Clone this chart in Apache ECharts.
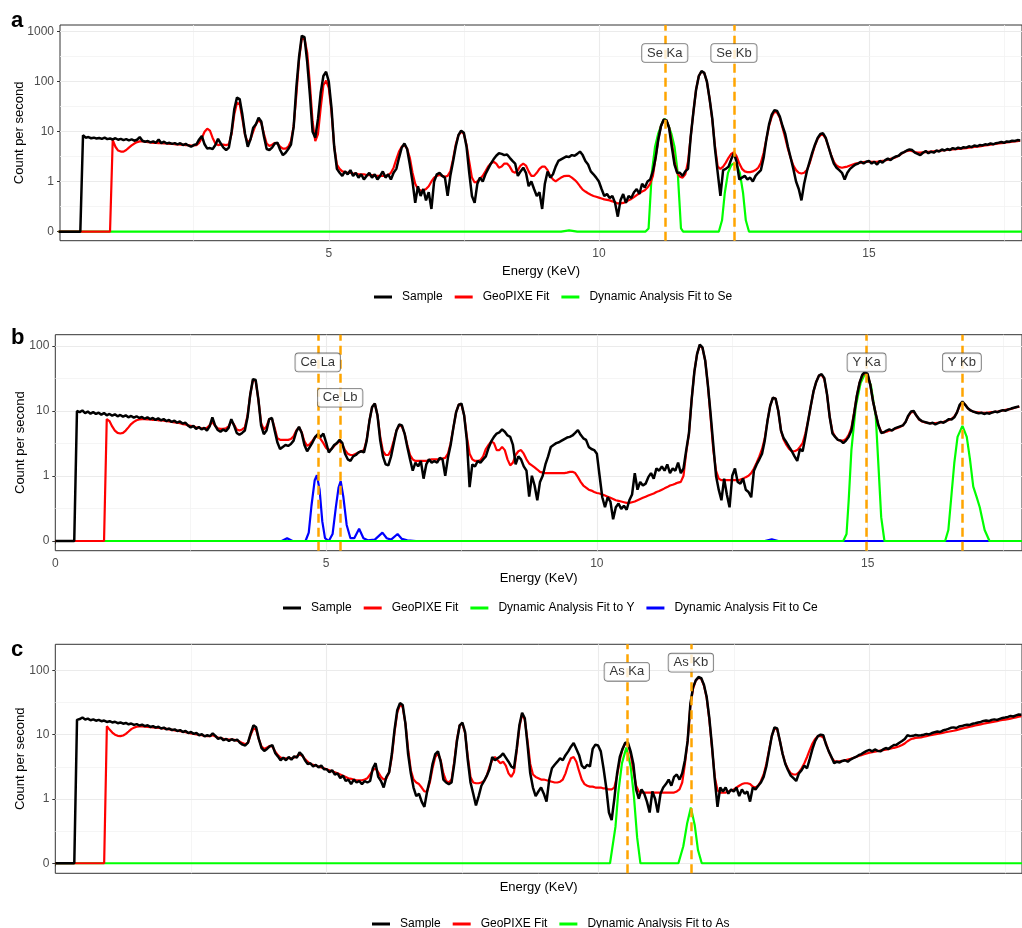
<!DOCTYPE html>
<html><head><meta charset="utf-8">
<script src="https://cdn.jsdelivr.net/npm/echarts@6/dist/echarts.min.js"></script>
<style>html,body{margin:0;padding:0;background:#fff}#c{width:1022px;height:928px}</style>
</head><body><div id="c"></div>
<script>
// ---------- DATA (counts per second, sampled every STEP keV from 0) ----------
const STEP = 0.05;
const sampleA = [
0,0,0,0,0,0,0,0,0,8.5,7.6,7.8,7.4,7.6,7.3,7.5,7.2,7.6,7.1,7.3,
7.0,7.4,6.9,7.2,6.8,7.1,6.7,7.0,6.6,6.9,7.8,6.6,6.3,6.5,6.1,6.4,6.0,7.0,5.9,6.3,
5.8,6.0,5.7,5.9,5.6,5.9,5.4,5.7,5.3,5.0,5.4,5.6,7.0,8.2,5.6,4.6,4.7,4.5,5.4,7.2,
5.8,4.8,4.3,4.8,10,28,48,45,22,9,5.0,7.0,12,14,19,16,8,4.5,4.3,4.8,
5.8,6.0,4.3,3.4,3.8,4.5,5.5,12.6,79,316,830,780,250,55,10,7.6,18,60,130,158,
100,30,5,1.8,1.5,1.3,1.6,1.4,1.7,1.3,1.5,1.2,1.4,1.1,1.3,1.5,1.2,1.4,1.1,1.3,
1.6,1.2,1.4,1.1,1.5,1.8,3.0,4.8,5.8,4.5,2.2,1.0,0.35,0.8,0.5,0.7,0.4,0.6,0.25,1.0,
1.4,1.5,1.3,1.2,0.5,1.3,2.5,5,8.5,10.5,9.5,5,1.5,0.5,0.35,0.9,1.2,1.0,1.4,1.8,
2.3,2.8,3.3,3.7,3.6,3.4,3.5,3.0,2.6,2.3,1.3,1.6,1.9,1.5,0.8,1.0,0.7,0.5,0.6,0.25,
0.9,1.6,1.2,1.4,2.0,2.6,2.8,3.0,3.2,3.1,3.4,3.3,3.6,4.0,3.4,2.6,2.2,1.6,1.4,1.2,
1.0,0.7,0.5,0.55,0.45,0.5,0.35,0.15,0.4,0.55,0.35,0.5,0.45,0.6,0.7,0.55,0.9,0.75,1.0,1.1,
1.6,3,7,13,17.5,17,12,5,2.2,1.5,1.5,1.3,1.6,1.8,8,25,70,130,163,150,
100,45,18,4.5,1.5,0.5,1.7,1.8,2.0,2.8,3.7,2.5,1.1,1.2,1.3,1.1,1.2,1.0,1.3,1.5,
1.7,3,7,14,22,27,26,20,13,9,5,3,1.8,1.0,0.7,0.4,0.9,1.6,2.5,3.8,
5.5,7.5,9,9.3,7.5,5,3.3,2.3,1.9,1.7,1.5,1.1,1.5,1.8,2.0,2.2,2.3,2.5,2.3,2.5,
2.6,2.3,2.5,2.2,2.6,2.4,2.7,2.9,2.7,3.0,3.2,3.3,3.7,3.9,4.2,4.4,4.3,3.8,3.6,3.4,
3.8,4.1,3.7,4.0,3.8,4.2,4.0,4.4,4.2,4.5,4.3,4.7,4.5,4.8,4.6,4.9,4.8,5.1,4.9,5.3,
5.1,5.4,5.3,5.6,5.5,5.8,5.6,5.9,6.0,6.2,6.0,6.4,6.3,6.6,6.5,6.8,6.7];
const fitA = [
0,0,0,0,0,0,0,0,0,0,0,0,0,0,0,0,0,0,0,0,
6.8,5.0,4.2,4.0,4.0,4.3,4.8,5.3,5.8,6.2,6.4,6.4,6.3,6.2,6.1,6.0,6.0,5.9,5.9,5.8,
5.8,5.7,5.7,5.6,5.6,5.5,5.5,5.4,5.4,5.3,5.3,5.4,6.0,7.5,10,11.5,10.5,7.5,5.8,5.4,
5.5,5.5,5.4,5.6,9,22,38,36,18,8.5,6.0,7.0,10,14,17,15,9,5.8,5.2,5.5,
6.0,5.8,5.0,4.6,4.6,5.0,6.5,13,55,280,740,720,380,90,16,6.5,9,30,85,105,
75,25,5,2.2,1.8,1.6,1.55,1.5,1.5,1.45,1.45,1.4,1.4,1.4,1.35,1.35,1.35,1.3,1.3,1.3,
1.3,1.3,1.35,1.5,1.9,2.8,4.0,5.0,5.4,4.6,3.0,1.5,0.9,0.7,0.65,0.65,0.7,0.8,1.0,1.2,
1.3,1.35,1.3,1.25,1.3,1.6,2.8,5.5,8.5,10,9,5.5,2.5,1.2,0.95,1.0,1.15,1.3,1.6,2.0,
2.3,2.5,2.3,1.9,2.0,2.3,2.3,2.0,1.6,1.5,1.7,2.1,2.3,2.1,1.6,1.3,1.3,1.5,1.8,2.0,
2.0,1.7,1.3,1.1,1.0,1.1,1.2,1.28,1.3,1.3,1.2,1.08,0.95,0.8,0.68,0.62,0.57,0.53,0.5,0.48,
0.46,0.44,0.42,0.41,0.4,0.38,0.36,0.34,0.34,0.35,0.37,0.4,0.43,0.47,0.52,0.57,0.62,0.66,0.75,0.9,
1.3,3,7,13,17,17,12,6,2.5,1.5,1.25,1.2,1.4,2.5,8,25,70,130,160,150,
100,45,17,5,2.0,1.8,2.0,2.4,3.0,3.6,3.9,3.2,2.3,1.8,1.6,1.55,1.55,1.6,1.7,1.9,
2.4,3.8,7,13,20,25,24,19,12,7.5,4.5,3.0,2.1,1.7,1.5,1.45,1.5,1.7,2.3,3.5,
5.3,7.2,8.5,8.7,7.3,5.0,3.4,2.5,2.1,1.95,1.9,1.95,2.0,2.1,2.2,2.3,2.35,2.4,2.45,2.5,
2.5,2.5,2.5,2.5,2.55,2.6,2.65,2.75,2.85,2.95,3.1,3.3,3.6,3.9,4.1,4.2,4.1,3.9,3.8,3.8,
3.85,3.9,3.95,4.0,4.05,4.1,4.15,4.2,4.25,4.3,4.35,4.4,4.45,4.5,4.6,4.65,4.7,4.8,4.85,4.95,
5.0,5.1,5.2,5.3,5.4,5.5,5.6,5.7,5.8,5.9,6.0,6.1,6.2,6.3,6.4,6.5,6.6];
const seFitA = [[0,0],[9.3,0],[9.45,0.012],[9.6,0],[10.86,0],[10.92,0.03],[10.95,0.4],[10.98,1.5],[11.04,5],[11.1,9.3],[11.17,15],[11.22,18],[11.27,15],[11.34,9.3],[11.4,5],[11.46,1.5],[11.49,0.4],[11.52,0.03],[11.56,0],[12.22,0],[12.28,0.11],[12.33,0.57],[12.39,1.5],[12.45,2.15],[12.5,2.3],[12.55,2.15],[12.61,1.5],[12.67,0.57],[12.72,0.11],[12.78,0],[17.9,0]];

const sampleB = [
0,0,0,0,0,0,0,0,10,9.6,10.2,9.3,9.8,9.1,9.6,9.0,9.4,8.8,9.3,8.6,
9.0,8.5,8.9,8.3,8.7,8.2,8.6,8.0,8.4,7.9,8.3,7.8,8.1,7.6,8.0,7.5,7.8,7.3,7.7,7.2,
7.5,7.0,7.3,6.8,7.1,6.6,6.9,6.4,6.6,6.0,5.6,5.9,5.3,5.7,5.2,5.5,5.0,5.8,8.0,6.0,
5.1,4.8,5.2,4.9,5.5,7.5,6.0,4.6,4.3,4.6,5.0,8,18,31,30,15,6,4.4,5.0,7.5,
7.8,5.0,3.3,2.6,2.8,3.0,2.9,3.1,3.5,4.8,5.7,4.6,3.0,2.4,2.8,3.3,4.0,4.4,4.0,4.5,
3.3,2.3,2.6,3.0,3.2,3.6,3.2,2.2,1.8,1.7,2.0,2.1,2.3,2.4,2.3,3.5,7,11.5,13,8.5,
3.5,2.0,1.5,1.45,2.0,3.2,5.0,6.2,6.0,4.5,2.8,1.8,1.2,1.6,1.4,1.7,0.9,1.5,1.8,1.6,
1.7,1.6,1.9,1.8,1.0,1.9,3.0,5.5,9.5,12.5,13,8.5,3.5,0.66,1.5,1.4,1.7,1.6,1.8,2.0,
2.7,3.4,4.0,4.5,4.7,5.2,4.8,4.2,4.0,3.0,1.5,2.0,1.8,1.4,1.2,0.46,1.0,0.7,0.4,0.8,
1.0,1.5,2.0,2.8,3.0,3.2,3.3,3.5,3.7,3.9,4.0,4.2,4.6,5.1,4.3,3.8,3.6,2.8,2.6,2.5,
2.2,1.0,0.45,0.3,0.45,0.38,0.17,0.3,0.35,0.28,0.32,0.27,0.4,0.5,1.1,0.6,0.8,0.7,0.75,0.95,
1.1,0.9,1.3,1.2,1.4,1.2,1.5,1.1,1.3,1.2,1.6,1.1,1.3,2.5,4.5,15,40,75,105,95,
60,25,9,3,1.0,0.6,0.4,0.9,0.5,0.3,1.0,1.3,0.8,0.75,0.9,0.6,0.55,0.45,1.2,1.5,
1.8,2.2,3.5,7,12,16,15.5,10,5,3.8,3.3,2.8,2.4,2.0,1.7,2.6,2.4,4,7,12,
20,28,35,37,32,18,8,4.5,4.0,3.6,3.5,3.2,3.5,4.0,5,9,17,27,36,40,
37,25,14,9,6,4.6,4.7,5.0,5.2,5.0,5.4,5.6,5.8,6.0,6.8,8.5,9.8,10,8.5,7.5,
7.0,6.8,6.6,6.4,6.6,6.2,6.5,6.8,6.6,7.0,7.5,7.4,8.0,9.5,12.5,14,12.5,11,10.2,9.8,
9.5,9.2,9.4,9.0,9.3,9.1,9.5,9.8,9.6,10.0,10.3,10.1,10.6,10.9,11.2,11.5,11.8];
const fitB = [
0,0,0,0,0,0,0,0,0,0,0,0,0,0,0,0,0,0,0,7.5,
7.0,5.8,5.0,4.6,4.5,4.6,5.0,5.6,6.3,6.8,7.2,7.4,7.5,7.5,7.4,7.4,7.3,7.3,7.2,7.2,
7.1,7.0,6.9,6.8,6.7,6.6,6.5,6.3,6.2,6.0,5.9,5.8,5.6,5.5,5.4,5.4,5.5,6.0,6.8,5.9,
5.4,5.3,5.3,5.4,5.8,7.0,6.2,5.2,5.0,5.2,5.6,8.5,18,30,29,15,6.5,5.2,5.8,7.5,
7.6,5.5,3.8,3.6,3.6,3.6,3.6,3.7,4.1,5.0,5.6,4.7,3.4,2.9,3.1,3.5,4.0,4.1,3.7,3.2,
2.7,2.5,2.6,2.9,3.2,3.4,3.0,2.5,2.2,2.1,2.1,2.2,2.3,2.4,2.5,3.6,7,11.5,13,8.5,
4.0,2.4,2.1,2.1,2.5,3.5,5.0,6.0,5.8,4.5,3.0,2.1,1.8,1.7,1.7,1.7,1.7,1.7,1.75,1.8,
1.8,1.8,1.8,1.85,1.9,2.2,3.2,5.5,9.5,12.5,12.5,8.5,4.0,2.2,1.8,1.7,1.7,1.75,2.0,2.6,
3.0,3.4,3.2,2.5,2.5,2.8,2.5,1.8,1.45,1.6,2.1,2.4,2.5,2.2,1.8,1.55,1.45,1.35,1.25,1.15,
1.12,1.1,1.1,1.1,1.1,1.1,1.1,1.1,1.1,1.12,1.15,1.15,1.1,0.95,0.8,0.7,0.65,0.6,0.58,0.55,
0.53,0.52,0.5,0.48,0.46,0.44,0.42,0.4,0.39,0.38,0.37,0.36,0.36,0.37,0.38,0.4,0.42,0.44,0.46,0.48,
0.5,0.52,0.55,0.57,0.6,0.63,0.66,0.7,0.72,0.75,0.78,0.8,1.0,2.3,4.5,15,40,75,103,93,
60,25,8,2.5,1.2,0.9,0.85,0.85,0.85,0.85,0.85,0.85,0.85,0.87,0.9,0.95,1.0,1.1,1.3,1.6,
2.0,2.6,3.8,7,12,16,15.5,10,5,3.6,3.0,2.6,2.4,2.4,2.5,2.8,3.2,4.5,7,12,
20,28,35,36,31,18,8,4.8,4.0,3.6,3.5,3.5,3.7,4.3,5.5,9.5,17,27,35,39,
36,25,14,9,6,4.8,4.7,4.8,5.0,5.1,5.3,5.5,5.7,6.0,6.8,8.3,9.5,9.8,8.5,7.4,
6.9,6.7,6.6,6.5,6.5,6.5,6.6,6.7,6.8,7.0,7.3,7.6,8.2,9.5,12,13.5,12.5,11,10.2,9.8,
9.6,9.5,9.4,9.4,9.4,9.5,9.6,9.7,9.8,10,10.2,10.4,10.6,10.8,11.1,11.4,11.7];
const yFitB = [[0,0],[14.55,0],[14.61,0.05],[14.65,0.4],[14.7,2.5],[14.78,11.7],[14.87,27],[14.96,39],[15.06,25],[15.15,8.2],[15.2,1.4],[15.25,0.19],[15.31,0],[16.43,0],[16.49,0.08],[16.55,0.52],[16.6,1.58],[16.66,4.0],[16.75,5.9],[16.83,4.0],[16.89,1.78],[16.95,0.67],[17.01,0.46],[17.07,0.3],[17.16,0.08],[17.25,0],[17.9,0]];
const ceFitB = [[0,0],[4.18,0],[4.28,0.02],[4.38,0],[4.62,0],[4.68,0.06],[4.73,0.32],[4.79,0.85],[4.83,1.02],[4.88,0.6],[4.93,0.15],[4.98,0.02],[5.05,0],[5.12,0.05],[5.18,0.3],[5.23,0.65],[5.27,0.82],[5.32,0.45],[5.38,0.12],[5.45,0.02],[5.52,0.02],[5.61,0.09],[5.69,0.02],[5.77,0.005],[5.9,0.01],[6.04,0.06],[6.12,0.02],[6.2,0.01],[6.32,0.05],[6.4,0.015],[6.5,0.005],[6.66,0],[13.1,0],[13.23,0.012],[13.35,0],[17.9,0]];

const sampleC = [
0,0,0,0,0,0,0,0,17,17.5,18.5,17.2,17.8,16.8,17.3,16.5,17.0,16.2,16.6,15.8,
16.2,15.5,15.9,15.1,15.5,14.8,15.2,14.5,14.9,14.2,14.6,13.9,14.3,13.6,14.0,13.2,13.6,12.9,13.3,12.5,
12.9,12.1,12.5,11.8,12.1,11.4,11.8,11.0,11.4,10.6,11.0,10.3,10.6,9.8,10.2,9.4,9.8,9.5,10.5,9.6,
8.6,9.0,8.2,8.6,8.0,8.5,8.1,8.4,7.5,7.0,6.8,7.5,10.5,14,13,8.5,6.2,5.6,6.0,6.6,
6.9,5.2,4.6,4.0,4.4,4.0,4.5,4.1,4.6,4.4,5.3,4.8,4.0,3.5,3.6,3.2,3.4,3.1,3.3,2.9,
2.9,2.6,2.8,2.4,2.5,2.1,2.3,1.9,2.0,1.7,2.0,1.8,1.9,1.7,1.9,1.8,1.9,3.0,3.6,2.2,
1.9,1.5,2.2,2.6,5,12,24,31,29,15,5,2.5,1.5,1.1,1.2,0.9,0.74,1.3,2.0,3.5,
5.0,5.5,3.8,2.0,1.8,1.7,1.8,3.5,8,14,15.4,11,4,1.8,1.2,0.78,1.1,1.6,1.9,2.3,
2.9,4.5,4.0,4.3,4.6,5.1,4.4,3.8,3.2,3.0,6,14,22,18,7,2.5,1.5,1.1,1.3,1.5,
1.2,0.9,2.0,3.0,3.4,3.8,4.3,4.0,4.8,5.5,6.5,7.4,6.0,4.8,3.3,3.0,3.4,3.2,6.0,7.0,
6.8,5.5,3.0,1.5,0.6,0.45,1.0,2.5,4.5,6.0,7.5,7.5,5.5,3.5,1.4,1.0,1.4,1.2,0.9,0.6,
1.3,1.0,0.6,1.2,1.5,1.7,2.0,1.6,2.2,2.4,2.0,2.5,4.0,8,30,55,70,79,76,60,
39,18,6.5,2.0,0.74,1.5,1.3,1.5,1.2,1.4,1.3,1.5,1.1,1.4,1.2,1.3,0.9,1.5,1.4,1.6,
1.8,2.2,3.2,5.5,9.5,13,12.5,8,5,3.5,2.8,2.3,2.1,1.9,2.5,2.8,3.3,3.0,4.2,6,
8,9.5,10,9.8,7,5.5,4.5,3.6,3.8,3.7,3.9,4.0,3.8,4.1,4.3,4.5,4.8,5.0,5.3,5.6,
5.8,5.5,5.9,5.6,5.5,5.9,6.2,6.0,6.5,6.9,7.0,7.5,8.0,8.6,9.8,9.5,9.6,9.9,9.7,9.8,
10.0,10.3,10.1,10.6,10.9,11.2,11.0,11.6,11.9,12.3,12.8,13.0,12.7,13.4,13.6,14.0,14.3,14.2,14.8,15.1,
15.5,15.8,16.3,16.6,16.3,17.0,17.3,17.0,17.6,18.2,18.5,18.9,19.5,19.2,20.0,20.6,20.5];
const fitC = [
0,0,0,0,0,0,0,0,0,0,0,0,0,0,0,0,0,0,0,13.5,
12,10.8,10.0,9.6,9.5,9.7,10.3,11.2,12.2,12.9,13.3,13.4,13.4,13.3,13.2,13.1,13.0,12.9,12.8,12.6,
12.5,12.3,12.1,11.9,11.7,11.5,11.3,11.1,10.9,10.7,10.5,10.3,10.1,9.9,9.8,9.6,9.5,9.5,9.8,9.4,
9.0,8.8,8.6,8.5,8.4,8.4,8.3,8.1,7.8,7.4,7.1,7.5,10,12.5,12,8.5,6.5,6.0,6.3,6.7,
6.5,5.5,4.8,4.4,4.3,4.3,4.3,4.3,4.4,4.6,4.9,4.7,4.2,3.8,3.5,3.4,3.3,3.2,3.1,3.0,
2.9,2.8,2.7,2.6,2.5,2.4,2.3,2.2,2.1,2.05,2.0,1.95,1.95,1.95,2.0,2.1,2.4,2.8,3.0,2.6,
2.2,2.0,2.1,2.6,4.5,11,22,29,27,15,6,2.8,2.0,1.8,1.7,1.5,1.3,1.3,1.8,3.0,
4.5,5.1,4.0,2.5,1.9,1.8,2.0,3.8,8.5,14,15,10.5,4.5,2.2,1.8,1.75,1.75,1.8,1.9,2.3,
3.2,4.0,4.5,4.0,3.6,3.8,3.3,2.5,2.2,2.6,5.5,13,21,17,8,3.5,2.4,2.2,2.1,2.0,
2.0,1.95,1.9,1.85,1.8,1.8,1.85,2.0,2.5,3.4,4.3,4.5,3.8,2.7,2.0,1.7,1.6,1.55,1.55,1.5,
1.5,1.5,1.45,1.45,1.4,1.4,1.5,2.3,4.0,6.0,7.3,7.0,5.0,2.8,1.6,1.3,1.25,1.25,1.25,1.25,
1.25,1.25,1.25,1.25,1.25,1.25,1.25,1.25,1.25,1.3,1.4,1.8,3.5,8,28,52,70,77,74,58,
38,17,6,2.2,1.35,1.25,1.25,1.25,1.3,1.35,1.4,1.5,1.6,1.7,1.75,1.75,1.7,1.55,1.5,1.6,
1.9,2.4,3.5,5.8,9.5,12.5,12,8,5,3.6,2.9,2.5,2.4,2.4,2.6,3.0,3.6,4.5,5.8,7.3,
8.6,9.5,9.6,9.0,7.3,5.5,4.4,3.9,3.8,3.85,3.9,4.0,4.1,4.2,4.35,4.5,4.65,4.8,4.95,5.1,
5.25,5.35,5.45,5.55,5.65,5.75,5.85,5.95,6.1,6.25,6.4,6.6,6.9,7.3,7.9,8.4,8.7,8.9,9.0,9.1,
9.3,9.5,9.7,9.9,10.1,10.3,10.5,10.7,10.9,11.1,11.3,11.5,11.8,12.1,12.4,12.7,13.0,13.3,13.6,13.9,
14.2,14.5,14.8,15.1,15.4,15.7,16.0,16.3,16.6,16.9,17.2,17.5,17.8,18.2,18.6,19.0,19.4];
const asFitC = [[0,0],[10.22,0],[10.25,0.01],[10.32,0.34],[10.37,1.2],[10.44,3.6],[10.52,6.3],[10.6,3.2],[10.66,1.1],[10.72,0.21],[10.78,0],[11.48,0],[11.51,0.01],[11.57,0.13],[11.64,0.39],[11.71,0.72],[11.78,0.37],[11.84,0.1],[11.91,0],[17.9,0]];

// line markers (keV) and label heights (counts per second)
const lineNamesA = ['Se Ka','Se Kb'];               const lineKeVA = [11.22, 12.50];               const labelHA = [375, 375];
const lineNamesB = ['Ce La','Ce Lb','Y Ka','Y Kb']; const lineKeVB = [4.846, 5.26, 14.98, 16.74]; const labelHB = [56, 16, 56, 56];
const lineNamesC = ['As Ka','As Kb'];               const lineKeVC = [10.53, 11.71];               const labelHC = [95, 132];

const yTickLabels = ['0','1','10','100','1000'];
const xTicks = [0, 5, 10, 15];
const xMinor = [2.5, 7.5, 12.5, 17.5];

// ---------- helpers ----------
const T = v => Math.asinh(v / 0.2) / Math.LN10;   // pseudo-log (sigma 0.1)
const onGrid = arr => arr.map((v, i) => [+(i * STEP).toFixed(2), T(v)]);
const fromPairs = arr => arr.map(p => [p[0], T(p[1])]);
const FONT = 'Liberation Sans, Arial, Helvetica, sans-serif';

const panels = [
  {key:'a', left:60, top:25, width:964, height:215.7, xmin:0.024, xmax:17.833, ymin:-0.18, ymax:4.134, nTicks:5,
   showX:true, xTicks:[5,10,15], xNameGap:24, yNameGap:34, legendLeft:369, legendTop:286,
   series:[['Dynamic Analysis Fit to Se', fromPairs(seFitA), '#00FF00', 2.2]],
   names:lineNamesA, keVs:lineKeVA, hs:labelHA, letterTop:10},
  {key:'b', left:55.3, top:334.7, width:968.7, height:216, xmin:0, xmax:17.85, ymin:-0.149, ymax:3.174, nTicks:4,
   showX:true, xTicks:[0,5,10,15], xNameGap:21, yNameGap:28, legendLeft:278, legendTop:597,
   series:[['Dynamic Analysis Fit to Ce', fromPairs(ceFitB), '#0000FF', 2.2], ['Dynamic Analysis Fit to Y', fromPairs(yFitB), '#00FF00', 2.2]],
   names:lineNamesB, keVs:lineKeVB, hs:labelHB, letterTop:327},
  {key:'c', left:55.3, top:644.3, width:968.7, height:229, xmin:0, xmax:17.81, ymin:-0.156, ymax:3.406, nTicks:4,
   showX:false, xTicks:[0,5,10,15], xNameGap:8, yNameGap:28, legendLeft:367, legendTop:913,
   series:[['Dynamic Analysis Fit to As', fromPairs(asFitC), '#00FF00', 2.2]],
   names:lineNamesC, keVs:lineKeVC, hs:labelHC, letterTop:639}
];
const samples = [sampleA, sampleB, sampleC];
const fits = [fitA, fitB, fitC];

const grids = [], xAxes = [], yAxes = [], series = [], legends = [], graphics = [];
panels.forEach((p, i) => {
  grids.push({left:p.left, top:p.top, width:p.width, height:p.height, show:true, backgroundColor:'#fff', borderColor:'#333', borderWidth:1});
  xAxes.push({gridIndex:i, type:'value', min:p.xmin, max:p.xmax,
    axisLine:{show:false}, splitLine:{show:false},
    axisTick:{show:true, length:3, lineStyle:{color:'#333', width:1}, customValues:p.xTicks},
    axisLabel:{show:p.showX, customValues:p.xTicks, color:'#4D4D4D', fontSize:12, margin:7, fontFamily:FONT},
    name:'Energy (KeV)', nameLocation:'middle', nameGap:p.xNameGap, nameMoveOverlap:false,
    nameTextStyle:{color:'#000', fontSize:13, fontFamily:FONT}});
  const yt = []; for (let k = 0; k < p.nTicks; k++) yt.push(k);
  yAxes.push({gridIndex:i, type:'value', min:p.ymin, max:p.ymax,
    axisLine:{show:false}, splitLine:{show:false},
    axisTick:{show:true, length:3, lineStyle:{color:'#333', width:1}, customValues:yt},
    axisLabel:{customValues:yt, color:'#4D4D4D', fontSize:12, margin:6, fontFamily:FONT,
      formatter: v => yTickLabels[Math.round(v)]},
    name:'Count per second', nameLocation:'middle', nameGap:p.yNameGap, nameMoveOverlap:false,
    nameTextStyle:{color:'#000', fontSize:13, fontFamily:FONT}});

  // gridlines
  const gl = [];
  const major = {color:'#EBEBEB', width:1.1, type:'solid'};
  const minor = {color:'#F3F3F3', width:0.8, type:'solid'};
  xTicks.forEach(v => { if (v > p.xmin) gl.push({xAxis:v, lineStyle:major}); });
  xMinor.forEach(v => { if (v < p.xmax) gl.push({xAxis:v, lineStyle:minor}); });
  yt.forEach(v => gl.push({yAxis:v, lineStyle:major}));
  yt.forEach(v => { if (v + 0.5 < p.ymax) gl.push({yAxis:v + 0.5, lineStyle:minor}); });
  series.push({type:'line', xAxisIndex:i, yAxisIndex:i, data:[], silent:true, z:1,
    markLine:{silent:true, z:1, symbol:['none','none'], label:{show:false}, animation:false, data:gl}});

  // element fits (bottom), GeoPIXE, sample (top)
  p.series.forEach(s => series.push({type:'line', name:s[0], xAxisIndex:i, yAxisIndex:i, data:s[1], showSymbol:false,
    color:s[2], itemStyle:{color:s[2]}, lineStyle:{color:s[2], width:s[3]}, z:2, animation:false, emphasis:{disabled:true}}));
  series.push({type:'line', name:'GeoPIXE Fit', xAxisIndex:i, yAxisIndex:i, data:onGrid(fits[i]), showSymbol:false,
    color:'#FF0000', itemStyle:{color:'#FF0000'}, lineStyle:{color:'#FF0000', width:2.2}, z:2, animation:false, emphasis:{disabled:true}});
  series.push({type:'line', name:'Sample', xAxisIndex:i, yAxisIndex:i, data:onGrid(samples[i]), showSymbol:false,
    color:'#000', itemStyle:{color:'#000'}, lineStyle:{color:'#000', width:2.5}, z:2, animation:false, emphasis:{disabled:true}});

  // emission lines + labels
  series.push({type:'scatter', xAxisIndex:i, yAxisIndex:i, z:4, symbolSize:0, silent:true, animation:false,
    data:p.names.map((n, k) => ({name:n, value:[p.keVs[k], T(p.hs[k])]})),
    label:{show:true, position:'inside', formatter:'{b}', color:'#000', fontSize:13, fontFamily:FONT,
      backgroundColor:'#fff', borderColor:'#555', borderWidth:0.8, borderRadius:3, padding:[3,5,2,5]},
    markLine:{silent:true, z:3, symbol:['none','none'], label:{show:false}, animation:false,
      lineStyle:{color:'#FFA500', width:2.5, type:[9,5]},
      data:p.keVs.map(v => ({xAxis:v}))}});

  legends.push({left:p.legendLeft, top:p.legendTop, orient:'horizontal', icon:'rect', itemWidth:18, itemHeight:3, itemGap:12,
    selectedMode:false, textStyle:{color:'#000', fontSize:12, fontFamily:FONT, padding:[0,0,0,5]},
    data:['Sample','GeoPIXE Fit'].concat(p.series.slice().reverse().map(s => s[0]))});

  graphics.push({type:'text', left:11, top:p.letterTop, style:{text:p.key, font:'bold 22px ' + FONT, fill:'#000'}});
});

const chart = echarts.init(document.getElementById('c'), null, {renderer:'canvas', width:1022, height:928});
chart.setOption({
  animation:false, backgroundColor:'#fff',
  grid:grids, xAxis:xAxes, yAxis:yAxes, series:series, legend:legends, graphic:graphics
});
</script></body></html>
